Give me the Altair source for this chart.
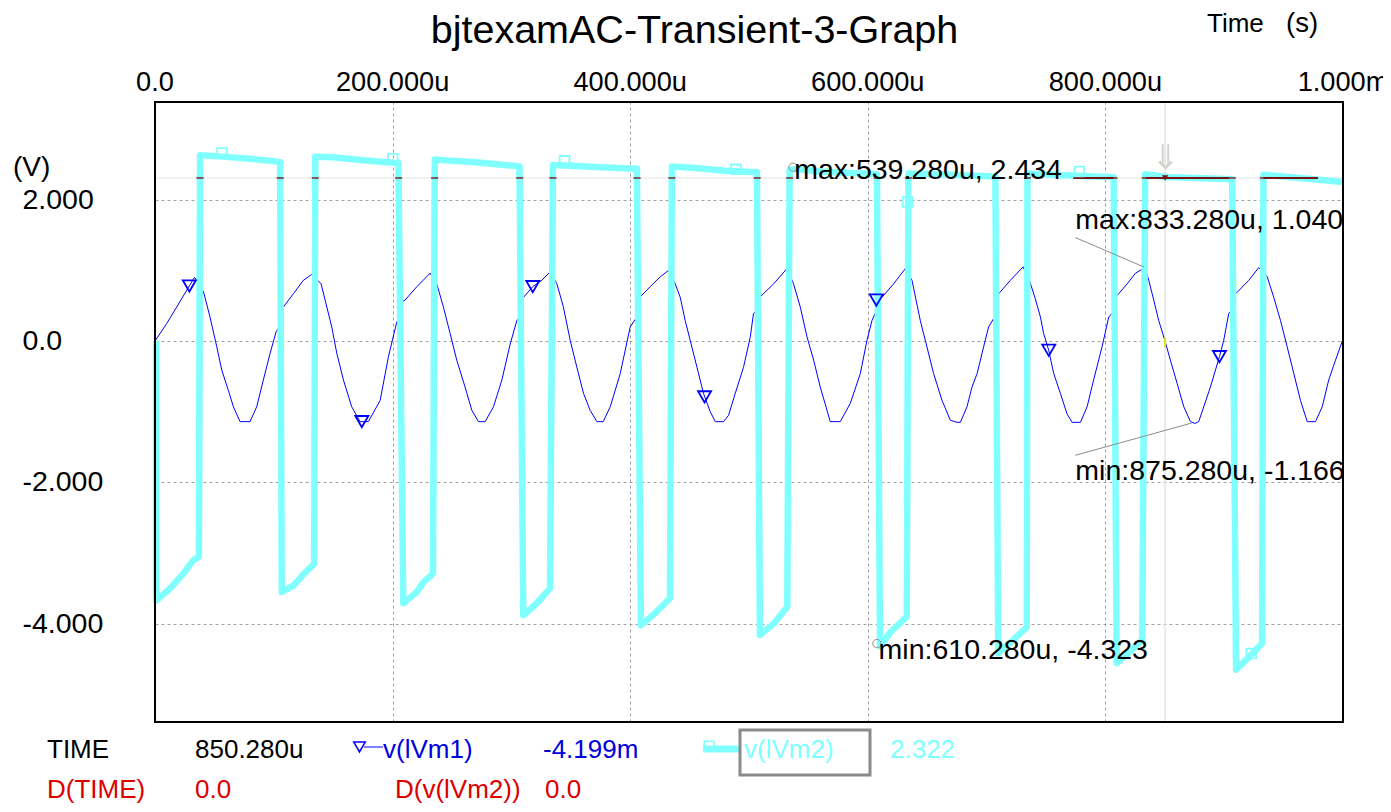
import altair as alt
import pandas as pd

FONT = "Liberation Sans, Arial, Helvetica, sans-serif"
CYAN = "#80ffff"
BLUE = "#0000ff"

# ---------------- data ----------------
time_ticks = [0, 200, 400, 600, 800, 1000]
time_tick_labels = ["0.0", "200.000u", "400.000u", "600.000u", "800.000u", "1.000m"]
volt_ticks = [2, 0, -2, -4]
volt_tick_labels = ["2.000", "0.0", "-2.000", "-4.000"]

# v(lVm1) : time in microseconds, volts
m1_time = [0.0, 9.9, 18.2, 28.9, 33.3, 38.0, 41.3, 46.3, 52.0, 56.2, 61.8, 66.0, 71.6, 80.0,
           85.6, 91.2, 96.8, 101.9, 105.5, 106.5, 108.0, 116.5, 124.9,
           132.0, 139.8, 148.8, 153.0, 158.6, 165.6, 172.6, 179.6, 189.5, 196.5, 203.5,
           205.5, 207.0, 210.5, 220.4,
           231.6, 237.2, 242.8, 248.4, 254.0, 261.0, 266.7, 272.3, 277.9, 284.9, 292.0,
           299.0, 304.6, 307.5, 308.5, 310.2, 318.0, 325.6,
           332.6, 338.3, 343.8, 349.5, 355.1, 360.7, 366.3, 372.0, 377.3, 383.2, 391.6,
           400.0, 406.0, 407.5, 409.9, 416.8, 425.3,
           432.3, 437.9, 442.1, 446.3, 450.5, 456.2, 461.7, 467.4, 471.6, 478.6, 482.8,
           488.4, 495.4, 501.1, 503.8, 507.0, 508.0, 510.9, 520.7,
           532.0, 537.5, 543.2, 548.8, 554.4, 560.0, 568.4, 576.8, 585.3, 593.7, 599.3,
           603.5, 606.5, 607.5, 612.0, 621.7,
           631.6, 637.2, 644.2, 648.4, 655.4, 662.5, 669.5, 675.1, 677.9, 683.5, 687.7,
           692.0, 697.5, 701.7, 707.0, 708.5, 710.2, 720.0,
           730.7, 736.0, 741.0, 745.3, 748.0, 752.3, 756.5, 762.1, 767.7, 772.0, 779.0,
           784.6, 790.1, 797.2, 802.8, 807.0, 808.5, 811.2, 818.3, 825.3,
           833.28, 836.5, 840.7, 844.9, 850.28, 854.7, 860.4, 866.0, 871.6, 875.28, 878.5,
           882.8, 888.4, 896.0, 899.6, 903.8, 907.0, 908.5, 910.9, 920.7,
           929.1, 936.2, 941.7, 947.4, 953.0, 958.6, 964.2, 969.9, 976.8, 982.5, 988.0,
           993.7, 1000.0]
m1_volt = [0.00, 0.25, 0.48, 0.78, 0.90, 0.80, 0.67, 0.34, -0.08, -0.41, -0.70, -0.93, -1.14, -1.14,
           -0.93, -0.55, -0.18, 0.13, 0.22, 0.45, 0.48, 0.67, 0.86,
           0.945, 0.81, 0.20, -0.17, -0.55, -0.93, -1.14, -1.14, -0.84, -0.22, 0.27,
           0.32, 0.55, 0.58, 0.77,
           0.96, 0.81, 0.48, 0.11, -0.27, -0.65, -0.98, -1.14, -1.14, -0.93, -0.55,
           -0.04, 0.29, 0.35, 0.58, 0.62, 0.77, 0.86,
           0.98, 0.81, 0.48, 0.01, -0.37, -0.74, -0.98, -1.14, -1.14, -0.93, -0.46,
           0.20, 0.35, 0.62, 0.65, 0.77, 0.91,
           1.00, 0.81, 0.62, 0.29, 0.01, -0.37, -0.74, -1.00, -1.14, -1.14, -1.05,
           -0.74, -0.37, 0.06, 0.39, 0.45, 0.63, 0.65, 0.81,
           1.026, 0.81, 0.48, 0.06, -0.27, -0.65, -1.14, -1.14, -0.88, -0.46, 0.01,
           0.29, 0.40, 0.58, 0.62, 0.81,
           1.026, 0.86, 0.29, 0.01, -0.46, -0.84, -1.12, -1.15, -1.15, -0.93, -0.65,
           -0.46, -0.08, 0.20, 0.35, 0.62, 0.67, 0.86,
           1.05, 0.86, 0.60, 0.34, 0.11, -0.13, -0.46, -0.74, -1.03, -1.15, -1.15,
           -0.93, -0.55, -0.08, 0.34, 0.42, 0.62, 0.67, 0.81, 0.96,
           1.040, 0.86, 0.58, 0.29, -0.004, -0.27, -0.60, -0.93, -1.14, -1.166, -1.14,
           -0.93, -0.65, -0.22, 0.01, 0.39, 0.45, 0.66, 0.69, 0.86,
           1.04, 0.91, 0.62, 0.29, -0.08, -0.46, -0.84, -1.14, -1.14, -0.93, -0.55,
           -0.27, 0.03]

# v(lVm2)
m2_time = [1.0, 1.0, 12.6, 23.8, 32.3, 37.0,
           37.9, 56.4, 80.0, 98.0, 105.3,
           106.7, 116.5, 124.9, 134.0,
           134.9, 150.0, 175.0, 195.0, 204.9,
           209.0, 220.4, 226.0, 234.0,
           235.5, 250.0, 270.0, 290.0, 306.8,
           310.0, 321.4, 332.5,
           335.0, 350.0, 375.0, 405.6,
           409.0, 421.0, 433.5,
           435.1, 455.0, 480.0, 506.7,
           509.2, 520.7, 532.2,
           534.2, 539.28, 560.0, 585.0, 607.7,
           610.28, 619.0, 632.8,
           634.2, 660.0, 690.0, 707.4,
           709.8, 722.8, 733.8,
           734.4, 760.0, 790.0, 807.0,
           809.5, 820.0, 831.0,
           833.5, 850.28, 870.0, 906.7,
           910.0, 922.1, 931.9,
           933.0, 950.0, 975.0, 1000.0]
m2_volt = [0.00, -3.67, -3.50, -3.29, -3.10, -3.05,
           2.63, 2.61, 2.58, 2.55, 2.53,
           -3.55, -3.46, -3.30, -3.15,
           2.61, 2.60, 2.56, 2.53, 2.52,
           -3.71, -3.55, -3.41, -3.29,
           2.57, 2.55, 2.53, 2.50, 2.47,
           -3.88, -3.71, -3.50,
           2.49, 2.48, 2.46, 2.44,
           -4.02, -3.85, -3.64,
           2.47, 2.45, 2.41, 2.39,
           -4.16, -4.00, -3.76,
           2.42, 2.434, 2.40, 2.38, 2.36,
           -4.323, -4.12, -3.90,
           2.37, 2.36, 2.34, 2.33,
           -4.42, -4.22, -4.05,
           2.37, 2.35, 2.33, 2.32,
           -4.56, -4.40, -4.23,
           2.36, 2.322, 2.31, 2.29,
           -4.65, -4.45, -4.28,
           2.35, 2.33, 2.29, 2.25]

m1_marker_time = [28.9, 174.1, 318.0, 462.6, 607.2, 752.3, 896.0]
m1_marker_volt = [0.78, -1.14, 0.77, -0.79, 0.58, -0.13, -0.22]
m2_marker_time = [56.4, 200.2, 344.7, 489.0, 633.5, 778.0, 922.8]
m2_marker_volt = [2.66, 2.58, 2.55, 2.43, 1.97, 2.40, -4.42]

ann_text = ["max:539.280u, 2.434", "max:833.280u, 1.040",
            "min:875.280u, -1.166", "min:610.280u, -4.323"]
ann_time = [538.0, 774.7, 774.7, 609.1]
ann_volt = [2.42, 1.72, -1.84, -4.375]
leader_time = [774.7, 774.7]
leader_volt = [1.465, -1.616]
leader_time2 = [832.3, 872.8]
leader_volt2 = [1.05, -1.159]
circle_time = [537.0, 607.7]
circle_volt = [2.46, -4.28]

cursor_time = [850.28]
cursor_level = [2.308]
xor_edge_time = [37.9, 105.4, 134.9, 205.1, 235.4, 307.0, 335.0, 405.8, 435.1, 506.9,
                 534.2, 607.9, 634.2, 707.6, 734.4, 807.2, 833.5, 906.9, 933.0]
xor_seg_start = [773.0, 834.0, 933.0]
xor_seg_end = [807.0, 904.0, 979.0]

# ---------------- scales / axes ----------------
XS = alt.Scale(domain=[0, 1000], nice=False, zero=False)
YS = alt.Scale(domain=[-5.39, 3.383], nice=False, zero=False)
AXX = alt.Axis(orient="top", values=time_ticks, grid=True, labels=False, ticks=False,
               domain=False, title=None, gridDash=[3, 3], gridColor="#a0a0a0", gridWidth=1)
AXY = alt.Axis(values=volt_ticks, grid=True, labels=False, ticks=False,
               domain=False, title=None, gridDash=[3, 3], gridColor="#a0a0a0", gridWidth=1)


def X(f):
    return alt.X(f, type="quantitative", scale=XS, axis=AXX)


def Y(f):
    return alt.Y(f, type="quantitative", scale=YS, axis=AXY)


df1 = pd.DataFrame({"i": range(len(m1_time)), "t": m1_time, "v": m1_volt})
df2 = pd.DataFrame({"i": range(len(m2_time)), "t": m2_time, "v": m2_volt})
dm1 = pd.DataFrame({"t": m1_marker_time, "v": m1_marker_volt})
dm2 = pd.DataFrame({"t": m2_marker_time, "v": m2_marker_volt})
dann = pd.DataFrame({"t": ann_time, "v": ann_volt, "s": ann_text})
dlead = pd.DataFrame({"t": leader_time, "v": leader_volt, "t2": leader_time2, "v2": leader_volt2})
dcirc = pd.DataFrame({"t": circle_time, "v": circle_volt})
dxt = pd.DataFrame({"t": time_ticks, "s": time_tick_labels})
dyt = pd.DataFrame({"v": volt_ticks, "s": volt_tick_labels})
dcur = pd.DataFrame({"t": cursor_time, "v": cursor_level})
dxe = pd.DataFrame({"t": xor_edge_time, "v": cursor_level * len(xor_edge_time)})
dxs = pd.DataFrame({"t": xor_seg_start, "t2": xor_seg_end, "v": cursor_level * len(xor_seg_start)})
ONE = pd.DataFrame({"a": [1]})

layers = []

# horizontal / vertical cursor lines (light grey, under traces)
layers.append(alt.Chart(dcur).mark_rule(color="#ececec", strokeWidth=1.5).encode(
    y=Y("v")))
layers.append(alt.Chart(dcur).mark_rule(color="#e6e6e6", strokeWidth=1.5).encode(
    x=X("t")))

# traces
layers.append(alt.Chart(df1).mark_line(color=BLUE, strokeWidth=1).encode(
    x=X("t"), y=Y("v"), order="i:Q"))
layers.append(alt.Chart(df2).mark_line(color=CYAN, strokeWidth=6.5, strokeJoin="round",
                                       strokeCap="butt").encode(
    x=X("t"), y=Y("v"), order="i:Q"))

# XOR-looking dark red crossings of cursor line with cyan trace
layers.append(alt.Chart(dxe).mark_tick(color="#7a1414", orient="horizontal", size=7,
                                       thickness=2).encode(x=X("t"), y=Y("v")))
layers.append(alt.Chart(dxs).mark_rule(color="#7a1414", strokeWidth=2).encode(
    x=X("t"), x2="t2", y=Y("v")))

# yellow xor mark where cursor crosses blue trace
layers.append(alt.Chart(dcur).mark_rule(color="#e8e800", strokeWidth=2).encode(
    x=X("t"), y=alt.datum(0.05), y2=alt.datum(-0.09)))

# cursor head
layers.append(alt.Chart(dcur).mark_text(text="⇓", font="DejaVu Sans", fontSize=34,
                                        color="#d4d4d4", baseline="middle").encode(
    x=X("t"), y=alt.datum(2.58)))
layers.append(alt.Chart(dcur).mark_point(shape="triangle-down", size=40, filled=True,
                                         color="#7a1414", opacity=1).encode(
    x=X("t"), y=Y("v")))

# leader lines
layers.append(alt.Chart(dlead).mark_rule(color="#8c8c8c", strokeWidth=1).encode(
    x=X("t"), y=Y("v"), x2="t2", y2="v2"))

# markers
layers.append(alt.Chart(dm1).mark_point(shape="triangle-down", size=170, filled=False,
                                        color=BLUE, strokeWidth=1.8, opacity=1).encode(
    x=X("t"), y=Y("v")))
layers.append(alt.Chart(dm2).mark_point(shape="square", size=95, filled=False,
                                        color=CYAN, strokeWidth=1.8, opacity=1).encode(
    x=X("t"), y=Y("v")))

# annotation circles and texts
layers.append(alt.Chart(dcirc).mark_point(shape="circle", size=70, filled=False,
                                          color="#909090", strokeWidth=1, opacity=1).encode(
    x=X("t"), y=Y("v")))
layers.append(alt.Chart(dann).mark_text(align="left", baseline="middle", fontSize=28.5,
                                        color="#000000", font=FONT).encode(
    x=X("t"), y=Y("v"), text="s:N"))

# tick labels
layers.append(alt.Chart(dxt).mark_text(align="center", baseline="middle", fontSize=27.2,
                                       color="#000000", font=FONT).encode(
    x=X("t"), y=alt.value(-19.5), text="s:N"))
layers.append(alt.Chart(dyt).mark_text(align="left", baseline="middle", fontSize=28.5,
                                       color="#000000", font=FONT).encode(
    x=alt.value(-132.5), y=Y("v"), text="s:N"))

# plot frame
layers.append(alt.Chart(ONE).mark_rect(fill=None, fillOpacity=0, stroke="#000000",
                                       strokeWidth=2).encode(
    x=alt.value(0), x2=alt.value(1188), y=alt.value(0), y2=alt.value(620)))


def txt(s, x, y, color="#000000", size=26, align="left"):
    return alt.Chart(ONE).mark_text(text=s, align=align, baseline="middle", fontSize=size,
                                    color=color, font=FONT).encode(
        x=alt.value(x), y=alt.value(y))


layers.append(txt("(V)", -142, 66, size=28))
layers.append(txt("bjtexamAC-Transient-3-Graph", 539.5, -70.8, size=39.5, align="center"))
layers.append(txt("Time", 1052, -78, size=26))
layers.append(txt("(s)", 1131, -78, size=27.5))

# bottom readout
layers.append(txt("TIME", -108, 648))
layers.append(txt("850.280u", 40, 648))
layers.append(alt.Chart(ONE).mark_rule(color=BLUE, strokeWidth=1).encode(
    x=alt.value(209), x2=alt.value(228), y=alt.value(645)))
layers.append(alt.Chart(ONE).mark_point(shape="triangle-down", size=130, filled=False,
                                        color=BLUE, strokeWidth=1.6, opacity=1).encode(
    x=alt.value(204.5), y=alt.value(645)))
layers.append(txt("v(lVm1)", 228, 648, color="#0000dd"))
layers.append(txt("-4.199m", 388, 648, color="#0000dd"))
layers.append(alt.Chart(ONE).mark_rule(color=CYAN, strokeWidth=7).encode(
    x=alt.value(548), x2=alt.value(585), y=alt.value(647)))
layers.append(alt.Chart(ONE).mark_point(shape="square", size=90, filled=False,
                                        color=CYAN, strokeWidth=1.6, opacity=1).encode(
    x=alt.value(554), y=alt.value(644)))
layers.append(alt.Chart(ONE).mark_rect(fill=None, fillOpacity=0, stroke="#8a8a8a",
                                       strokeWidth=3).encode(
    x=alt.value(585), x2=alt.value(715), y=alt.value(628), y2=alt.value(673)))
layers.append(txt("v(lVm2)", 589, 648, color=CYAN))
layers.append(txt("2.322", 735, 648, color=CYAN))
layers.append(txt("D(TIME)", -108, 688, color="#dd0000"))
layers.append(txt("0.0", 40, 688, color="#dd0000"))
layers.append(txt("D(v(lVm2))", 240, 688, color="#dd0000"))
layers.append(txt("0.0", 390, 688, color="#dd0000"))

chart = alt.layer(*layers).properties(
    width=1188, height=620,
    padding={"left": 147, "top": 94, "right": 40, "bottom": 82},
    autosize=alt.AutoSizeParams(type="none"),
    background="#ffffff",
).configure_view(stroke=None).configure(font=FONT)

chart.save("out.html", embed_options={"renderer": "svg", "actions": False})
